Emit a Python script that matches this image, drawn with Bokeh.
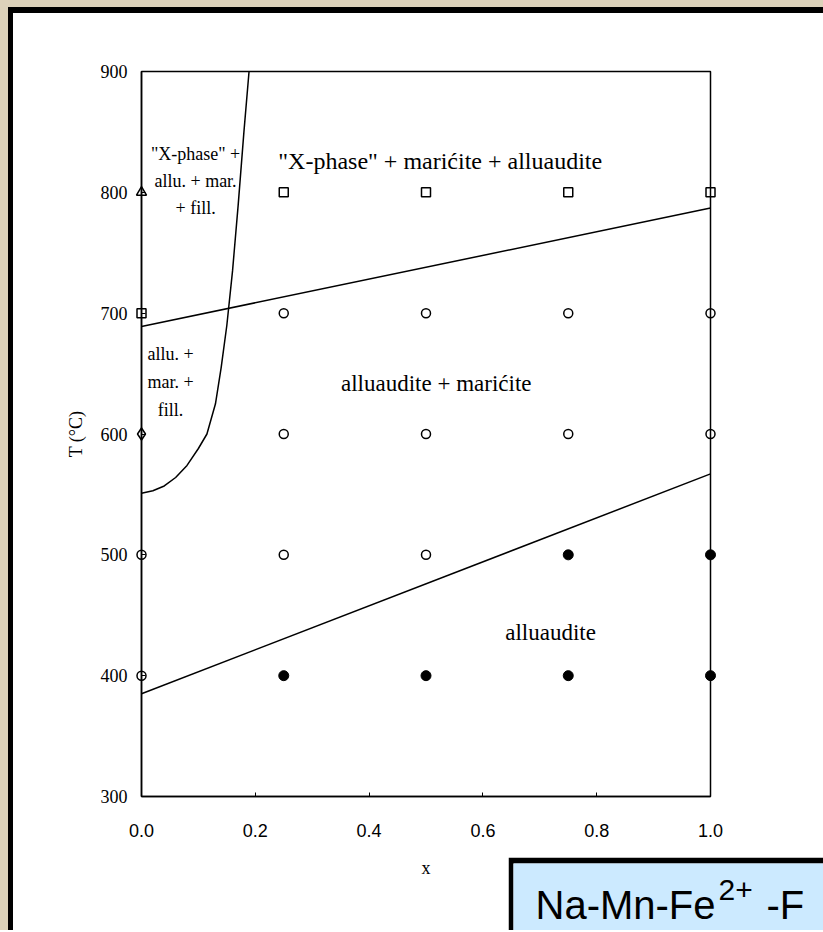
from bokeh.plotting import figure
from bokeh.layouts import column
from bokeh.models import FixedTicker, NumeralTickFormatter, Label
from bokeh.embed import file_html
from bokeh.resources import INLINE
from bokeh.core.properties import value

# ---------------- data ----------------
x_ticks = [0.0, 0.2, 0.4, 0.6, 0.8, 1.0]
T_ticks = [300, 400, 500, 600, 700, 800, 900]

# experimental runs (composition x, temperature T in deg C)
open_circle_x = [0.0, 0.0, 0.25, 0.25, 0.25, 0.5, 0.5, 0.5, 0.75, 0.75, 1.0, 1.0]
open_circle_T = [400, 500, 500, 600, 700, 500, 600, 700, 600, 700, 600, 700]
filled_circle_x = [0.25, 0.5, 0.75, 0.75, 1.0, 1.0]
filled_circle_T = [400, 400, 400, 500, 400, 500]
square_x = [0.0, 0.25, 0.5, 0.75, 1.0]
square_T = [700, 800, 800, 800, 800]
diamond_x = [0.0]
diamond_T = [600]
triangle_x = [0.0]
triangle_T = [800]

# phase boundaries
lower_x = [0.0, 1.0]
lower_T = [385, 567]
upper_x = [0.0, 1.0]
upper_T = [689, 787]
curve_x = [0.0, 0.02, 0.04, 0.06, 0.08, 0.10, 0.115, 0.13, 0.14, 0.15, 0.16, 0.17, 0.18, 0.189]
curve_T = [551, 553, 557, 564, 574, 588, 600, 625, 655, 690, 735, 790, 850, 900]

# region labels
big_text = ['"X-phase" + mari\u0107ite + alluaudite', 'alluaudite + mari\u0107ite', 'alluaudite']
big_x = [0.525, 0.518, 0.719]
big_T = [826, 642, 436]
small_text = ['"X-phase" +', 'allu. + mar.', '+ fill.', 'allu. +', 'mar. +', 'fill.']
small_x = [0.095, 0.095, 0.095, 0.051, 0.051, 0.051]
small_T = [832, 809, 787, 666, 643, 620]

box_title = ["Na-Mn-Fe", "2+", "-F"]

# ---------------- main figure ----------------
serif = "Liberation Serif"
sans = "Liberation Sans"

p = figure(width=810, height=876, x_range=(0, 1), y_range=(300, 900),
           output_backend="svg", toolbar_location=None,
           min_border_left=128, min_border_right=113, min_border_top=58,
           min_border_bottom=93,
           background_fill_color="white", border_fill_color="white")
p.frame_align = False
p.grid.visible = False
p.outline_line_color = "black"
p.outline_line_width = 1.5

yax = p.yaxis[0]
yax.ticker = FixedTicker(ticks=T_ticks)
yax.axis_line_width = 1.5
yax.axis_line_color = "black"
yax.major_tick_in = 4
yax.major_tick_out = 0
yax.minor_tick_in = 0
yax.minor_tick_out = 0
yax.major_tick_line_color = "black"
yax.major_label_text_font = serif
yax.major_label_text_font_size = "18px"
yax.major_label_text_color = "black"
yax.major_label_standoff = 14
yax.axis_label = "T (\u00b0C)"
yax.axis_label_text_font = serif
yax.axis_label_text_font_style = "normal"
yax.axis_label_text_font_size = "18px"
yax.axis_label_text_color = "black"
yax.axis_label_standoff = 12

xax = p.xaxis[0]
xax.ticker = FixedTicker(ticks=x_ticks)
xax.formatter = NumeralTickFormatter(format="0.0")
xax.axis_line_width = 1.5
xax.axis_line_color = "black"
xax.major_tick_in = 4
xax.major_tick_out = 0
xax.minor_tick_in = 0
xax.minor_tick_out = 0
xax.major_tick_line_color = "black"
xax.major_label_text_font = sans
xax.major_label_text_font_size = "18px"
xax.major_label_text_color = "black"
xax.major_label_standoff = 27
xax.axis_label = "x"
xax.axis_label_text_font = serif
xax.axis_label_text_font_style = "normal"
xax.axis_label_text_font_size = "18px"
xax.axis_label_text_color = "black"
xax.axis_label_standoff = 18

# boundaries
p.line(lower_x, lower_T, line_color="black", line_width=1.5)
p.line(upper_x, upper_T, line_color="black", line_width=1.5)
p.line(curve_x, curve_T, line_color="black", line_width=1.5)

# points
p.scatter(open_circle_x, open_circle_T, marker="circle", size=9, level="overlay",
          fill_color=None, line_color="black", line_width=1.5)
p.scatter(filled_circle_x, filled_circle_T, marker="circle", size=10, level="overlay",
          fill_color="black", line_color="black", line_width=1)
p.scatter(square_x, square_T, marker="square", size=9, level="overlay",
          fill_color=None, line_color="black", line_width=1.5)
p.scatter(diamond_x, diamond_T, marker="diamond", size=12, level="overlay",
          fill_color=None, line_color="black", line_width=1.5)
p.scatter(triangle_x, triangle_T, marker="triangle", size=10, level="overlay",
          fill_color=None, line_color="black", line_width=1.5)

# region labels
p.text(x=big_x[:1], y=big_T[:1], text=big_text[:1], text_font=value(serif),
       text_font_size="24px", text_align="center", text_baseline="middle",
       text_color="black")
p.text(x=big_x[1:], y=big_T[1:], text=big_text[1:], text_font=value(serif),
       text_font_size="23px", text_align="center", text_baseline="middle",
       text_color="black")
p.text(x=small_x, y=small_T, text=small_text, text_font=value(serif),
       text_font_size="18px", text_align="center", text_baseline="middle",
       text_color="black")

# ---------------- title box (bottom right) ----------------
b = figure(width=315, height=73, x_range=(0, 1), y_range=(0, 1),
           x_axis_type=None, y_axis_type=None,
           output_backend="svg", toolbar_location=None,
           min_border_left=5, min_border_top=6, min_border_right=0, min_border_bottom=0,
           background_fill_color="#cceaff", border_fill_color="black")
b.frame_align = False
b.grid.visible = False
b.outline_line_color = None
b.margin = (-32, 0, 0, 495)
b.add_layout(Label(x=27, y=47, x_units="canvas", y_units="canvas",
                   text=box_title[0], text_font=sans, text_font_size="40px",
                   text_color="black", text_baseline="alphabetic"))
b.add_layout(Label(x=210, y=32, x_units="canvas", y_units="canvas",
                   text=box_title[1], text_font=sans, text_font_size="30px",
                   text_color="black", text_baseline="alphabetic"))
b.add_layout(Label(x=258, y=47, x_units="canvas", y_units="canvas",
                   text=box_title[2], text_font=sans, text_font_size="40px",
                   text_color="black", text_baseline="alphabetic"))

inner = column(p, b, spacing=0,
               styles={"border-left": "5px solid black", "border-top": "6px solid black",
                       "background-color": "white"})
page = column(inner, spacing=0,
              styles={"background-color": "#dcd2ba", "padding-left": "8px",
                      "padding-top": "7px"})

open("out.html", "w").write(file_html(page, INLINE))
